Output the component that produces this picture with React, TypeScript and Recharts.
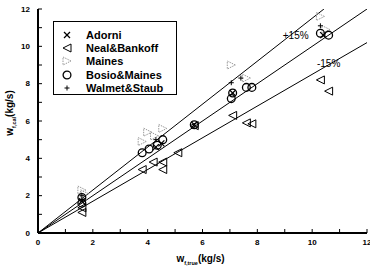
import React from "react";
import {
  ScatterChart,
  Scatter,
  XAxis,
  YAxis,
  Legend,
  ReferenceDot,
} from "recharts";

// measured vs calculated flow rates, read off the figure
const adorni = [
  { x: 1.6, y: 1.7 },
  { x: 4.3, y: 4.6 },
  { x: 4.5, y: 4.8 },
  { x: 5.7, y: 5.8 },
  { x: 7.1, y: 7.5 },
  { x: 10.4, y: 10.6 },
];

const nealBankoff = [
  { x: 1.6, y: 1.1 },
  { x: 1.6, y: 1.35 },
  { x: 3.8, y: 3.4 },
  { x: 4.2, y: 3.8 },
  { x: 4.55, y: 3.8 },
  { x: 4.55, y: 3.4 },
  { x: 5.1, y: 4.3 },
  { x: 5.7, y: 5.75 },
  { x: 7.1, y: 6.3 },
  { x: 7.6, y: 5.9 },
  { x: 7.8, y: 5.85 },
  { x: 10.3, y: 8.2 },
  { x: 10.6, y: 7.6 },
];

const maines = [
  { x: 1.6, y: 2.3 },
  { x: 1.7, y: 2.1 },
  { x: 3.8, y: 4.9 },
  { x: 4.0, y: 5.4 },
  { x: 4.25, y: 5.2 },
  { x: 4.55, y: 5.6 },
  { x: 7.05, y: 9.0 },
  { x: 7.6, y: 8.3 },
  { x: 10.3, y: 11.6 },
  { x: 10.5, y: 10.9 },
];

const bosioMaines = [
  { x: 1.6, y: 1.6 },
  { x: 1.6, y: 1.9 },
  { x: 3.8, y: 4.3 },
  { x: 4.05, y: 4.5 },
  { x: 4.35, y: 4.7 },
  { x: 4.55, y: 5.0 },
  { x: 5.7, y: 5.8 },
  { x: 7.05, y: 7.2 },
  { x: 7.1, y: 7.5 },
  { x: 7.6, y: 7.8 },
  { x: 7.8, y: 7.8 },
  { x: 10.3, y: 10.7 },
  { x: 10.6, y: 10.6 },
];

const walmetStaub = [
  { x: 1.6, y: 2.0 },
  { x: 4.3, y: 5.0 },
  { x: 7.05, y: 8.05 },
  { x: 7.4, y: 8.3 },
  { x: 10.3, y: 11.1 },
];

// reference lines: perfect agreement and +/-15 %
const idealLine = [
  { x: 0, y: 0 },
  { x: 12, y: 12 },
];
const plus15Line = [
  { x: 0, y: 0 },
  { x: 10.43, y: 12 },
];
const minus15Line = [
  { x: 0, y: 0 },
  { x: 12, y: 10.2 },
];

const axisTicks = [0, 1, 2, 3, 4, 5, 6, 7, 8, 9, 10, 11, 12];

const FONT = "'Liberation Sans', Arial, sans-serif";

const XMark = ({ cx, cy }: any) => (
  <g stroke="#000" strokeWidth={1.2}>
    <line x1={cx - 3} y1={cy - 3} x2={cx + 3} y2={cy + 3} />
    <line x1={cx - 3} y1={cy + 3} x2={cx + 3} y2={cy - 3} />
  </g>
);

const LeftTri = ({ cx, cy }: any) => (
  <polygon
    points={`${cx - 4},${cy} ${cx + 4},${cy - 4} ${cx + 4},${cy + 4}`}
    fill="none"
    stroke="#000"
    strokeWidth={1}
  />
);

const DashTri = ({ cx, cy }: any) => (
  <polygon
    points={`${cx + 4},${cy} ${cx - 4},${cy - 4} ${cx - 4},${cy + 4}`}
    fill="none"
    stroke="#999"
    strokeWidth={1}
    strokeDasharray="1.5 1"
  />
);

const Circ = ({ cx, cy }: any) => (
  <circle cx={cx} cy={cy} r={3.9} fill="none" stroke="#000" strokeWidth={1.3} />
);

const Plus = ({ cx, cy }: any) => (
  <g stroke="#000" strokeWidth={1}>
    <line x1={cx - 2.5} y1={cy} x2={cx + 2.5} y2={cy} />
    <line x1={cx} y1={cy - 2.5} x2={cx} y2={cy + 2.5} />
  </g>
);

const NoMark = () => <g />;

const legendRows = [
  { name: "Adorni", Icon: XMark },
  { name: "Neal&Bankoff", Icon: LeftTri },
  { name: "Maines", Icon: DashTri },
  { name: "Bosio&Maines", Icon: Circ },
  { name: "Walmet&Staub", Icon: Plus },
];

const renderLegend = () => (
  <div
    style={{
      border: "1px solid #000",
      width: 124,
      height: 74,
      boxSizing: "border-box",
      padding: "6px 0 0 4px",
      background: "#fff",
      fontFamily: FONT,
      fontWeight: "bold",
      fontSize: 11,
    }}
  >
    {legendRows.map(({ name, Icon }) => (
      <div key={name} style={{ display: "flex", alignItems: "center", height: 13.3 }}>
        <svg width={14} height={12} style={{ marginLeft: 2, marginRight: 12 }}>
          <Icon cx={7} cy={6} />
        </svg>
        <span>{name}</span>
      </div>
    ))}
  </div>
);

const tickText = (anchor: "middle" | "end") => (props: any) => {
  const { x, y, payload } = props;
  if (payload.value % 2 !== 0) return <g />;
  return (
    <text
      x={x}
      y={y}
      dy={anchor === "middle" ? "0.71em" : "0.32em"}
      textAnchor={anchor}
      fontFamily={FONT}
      fontWeight="bold"
      fontSize={8}
      fill="#000"
    >
      {payload.value}
    </text>
  );
};

const XTitle = ({ viewBox }: any) => {
  const cx = viewBox.x + viewBox.width / 2 - 2;
  return (
    <text x={cx} y={viewBox.y + 29} textAnchor="middle" fontFamily={FONT} fontWeight="bold" fontSize={10} fill="#000">
      w
      <tspan fontSize={5.5} dy={3}>f,true</tspan>
      <tspan dy={-3}>(kg/s)</tspan>
    </text>
  );
};

const YTitle = ({ viewBox }: any) => {
  const x = 13;
  const y = viewBox.y + viewBox.height / 2 - 8;
  return (
    <text
      x={x}
      y={y}
      transform={`rotate(-90 ${x} ${y})`}
      textAnchor="middle"
      fontFamily={FONT}
      fontWeight="bold"
      fontSize={10}
      fill="#000"
    >
      w
      <tspan fontSize={5.5} dy={3}>f,cal</tspan>
      <tspan dy={-3}>(kg/s)</tspan>
    </text>
  );
};

export default function App() {
  return (
    <div style={{ position: "absolute", left: 0, top: 0, background: "#fff" }}>
      <ScatterChart width={370} height={274} margin={{ top: 9, right: 3, bottom: 0, left: 0 }}>
        <XAxis
          type="number"
          dataKey="x"
          xAxisId="b"
          domain={[0, 12]}
          ticks={axisTicks}
          interval={0}
          height={41}
          tickSize={-4}
          tickMargin={10}
          tick={tickText("middle")}
          axisLine={{ stroke: "#000", strokeWidth: 2 }}
          tickLine={{ stroke: "#000", strokeWidth: 1 }}
          allowDataOverflow
          label={<XTitle />}
        />
        <XAxis
          type="number"
          dataKey="x"
          xAxisId="t"
          orientation="top"
          domain={[0, 12]}
          height={0}
          tick={false}
          tickLine={false}
          axisLine={{ stroke: "#000", strokeWidth: 1 }}
        />
        <YAxis
          type="number"
          dataKey="y"
          yAxisId="l"
          domain={[0, 12]}
          ticks={axisTicks}
          interval={0}
          width={38}
          tickSize={-4}
          tickMargin={12}
          tick={tickText("end")}
          axisLine={{ stroke: "#000", strokeWidth: 2 }}
          tickLine={{ stroke: "#000", strokeWidth: 1 }}
          allowDataOverflow
          label={<YTitle />}
        />
        <YAxis
          type="number"
          dataKey="y"
          yAxisId="r"
          orientation="right"
          domain={[0, 12]}
          width={0}
          tick={false}
          tickLine={false}
          axisLine={{ stroke: "#000", strokeWidth: 1.5 }}
        />
        <Legend
          content={renderLegend}
          layout="horizontal"
          align="center"
          verticalAlign="middle"
          wrapperStyle={{ left: 53, top: 21, width: 124, height: 74 }}
        />
        <Scatter xAxisId="b" yAxisId="l" data={idealLine} line={{ stroke: "#000", strokeWidth: 1 }} shape={NoMark} legendType="none" isAnimationActive={false} />
        <Scatter xAxisId="b" yAxisId="l" data={plus15Line} line={{ stroke: "#000", strokeWidth: 1 }} shape={NoMark} legendType="none" isAnimationActive={false} />
        <Scatter xAxisId="b" yAxisId="l" data={minus15Line} line={{ stroke: "#000", strokeWidth: 1 }} shape={NoMark} legendType="none" isAnimationActive={false} />
        <Scatter xAxisId="b" yAxisId="l" name="Maines" data={maines} shape={DashTri} isAnimationActive={false} />
        <Scatter xAxisId="b" yAxisId="l" name="Neal&Bankoff" data={nealBankoff} shape={LeftTri} isAnimationActive={false} />
        <Scatter xAxisId="b" yAxisId="l" name="Bosio&Maines" data={bosioMaines} shape={Circ} isAnimationActive={false} />
        <Scatter xAxisId="b" yAxisId="l" name="Adorni" data={adorni} shape={XMark} isAnimationActive={false} />
        <Scatter xAxisId="b" yAxisId="l" name="Walmet&Staub" data={walmetStaub} shape={Plus} isAnimationActive={false} />
        <ReferenceDot
          xAxisId="b"
          yAxisId="l"
          x={9.4}
          y={10.6}
          r={0}
          label={{ value: "+15%", fontFamily: FONT, fontSize: 10, fill: "#000", position: "center" }}
        />
        <ReferenceDot
          xAxisId="b"
          yAxisId="l"
          x={10.6}
          y={9.07}
          r={0}
          label={{ value: "-15%", fontFamily: FONT, fontSize: 10, fill: "#000", position: "center" }}
        />
      </ScatterChart>
    </div>
  );
}
